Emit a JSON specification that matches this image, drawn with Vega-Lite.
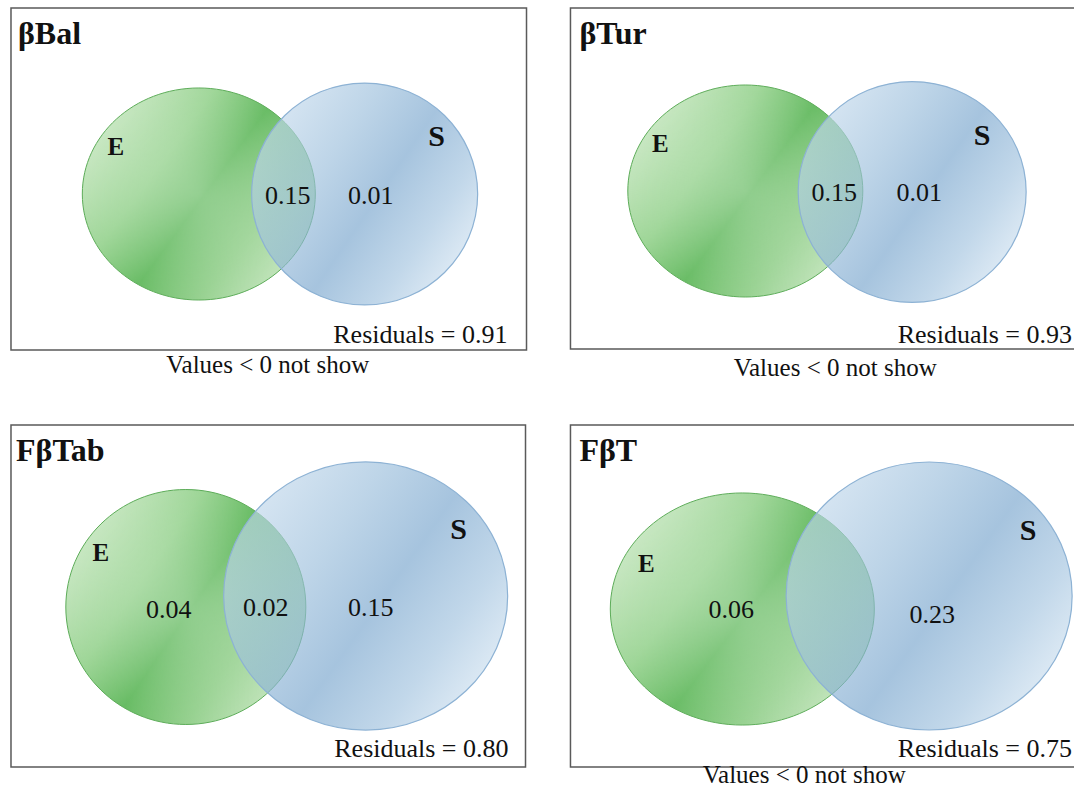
{
  "$schema": "https://vega.github.io/schema/vega-lite/v6.json",
  "width": 1075,
  "height": 796,
  "padding": 0,
  "autosize": {"type": "fit", "contains": "padding"},
  "background": "white",
  "config": {"view": {"stroke": null}},
  "datasets": {
    "boxes": [
      {"panel": "βBal", "x1": 11, "y1": 8, "x2": 527, "y2": 350},
      {"panel": "βTur", "x1": 571, "y1": 8, "x2": 1085, "y2": 349},
      {"panel": "FβTab", "x1": 11, "y1": 425, "x2": 526, "y2": 767},
      {"panel": "FβT", "x1": 571, "y1": 425, "x2": 1085, "y2": 767}
    ],
    "circles": [
      {"panel": "βBal", "set": "E", "id": "p1E", "cx": 199, "cy": 194, "w": 233},
      {"panel": "βBal", "set": "S", "id": "p1S", "cx": 365, "cy": 194, "w": 226},
      {"panel": "βTur", "set": "E", "id": "p2E", "cx": 746, "cy": 191, "w": 235},
      {"panel": "βTur", "set": "S", "id": "p2S", "cx": 913, "cy": 192, "w": 228},
      {"panel": "FβTab", "set": "E", "id": "p3E", "cx": 186, "cy": 607, "w": 240},
      {"panel": "FβTab", "set": "S", "id": "p3S", "cx": 366, "cy": 596, "w": 284},
      {"panel": "FβT", "set": "E", "id": "p4E", "cx": 743, "cy": 609, "w": 264},
      {"panel": "FβT", "set": "S", "id": "p4S", "cx": 930, "cy": 596, "w": 286}
    ],
    "labels": [
      {"panel": "βBal", "kind": "title", "text": "βBal", "x": 18, "y": 44},
      {"panel": "βTur", "kind": "title", "text": "βTur", "x": 580, "y": 44},
      {"panel": "FβTab", "kind": "title", "text": "FβTab", "x": 16, "y": 461},
      {"panel": "FβT", "kind": "title", "text": "FβT", "x": 580, "y": 461},
      {"panel": "βBal", "kind": "E", "text": "E", "x": 116, "y": 147},
      {"panel": "βTur", "kind": "E", "text": "E", "x": 661, "y": 144},
      {"panel": "FβTab", "kind": "E", "text": "E", "x": 101, "y": 553},
      {"panel": "FβT", "kind": "E", "text": "E", "x": 647, "y": 564},
      {"panel": "βBal", "kind": "S", "text": "S", "x": 437, "y": 137},
      {"panel": "βTur", "kind": "S", "text": "S", "x": 983, "y": 136},
      {"panel": "FβTab", "kind": "S", "text": "S", "x": 459, "y": 530},
      {"panel": "FβT", "kind": "S", "text": "S", "x": 1029, "y": 531},
      {"panel": "βBal", "kind": "value", "text": "0.15", "x": 288, "y": 196},
      {"panel": "βBal", "kind": "value", "text": "0.01", "x": 371, "y": 196},
      {"panel": "βTur", "kind": "value", "text": "0.15", "x": 835, "y": 193},
      {"panel": "βTur", "kind": "value", "text": "0.01", "x": 920, "y": 193},
      {"panel": "FβTab", "kind": "value", "text": "0.04", "x": 169, "y": 610},
      {"panel": "FβTab", "kind": "value", "text": "0.02", "x": 266, "y": 608},
      {"panel": "FβTab", "kind": "value", "text": "0.15", "x": 371, "y": 608},
      {"panel": "FβT", "kind": "value", "text": "0.06", "x": 732, "y": 610},
      {"panel": "FβT", "kind": "value", "text": "0.23", "x": 933, "y": 615},
      {"panel": "βBal", "kind": "residual", "text": "Residuals = 0.91", "x": 508, "y": 343},
      {"panel": "βTur", "kind": "residual", "text": "Residuals = 0.93", "x": 1073, "y": 343},
      {"panel": "FβTab", "kind": "residual", "text": "Residuals = 0.80", "x": 509, "y": 757},
      {"panel": "FβT", "kind": "residual", "text": "Residuals = 0.75", "x": 1073, "y": 757},
      {"panel": "βBal", "kind": "note", "text": "Values < 0 not show", "x": 268, "y": 373},
      {"panel": "βTur", "kind": "note", "text": "Values < 0 not show", "x": 836, "y": 376},
      {"panel": "FβT", "kind": "note", "text": "Values < 0 not show", "x": 805, "y": 783}
    ]
  },
  "layer": [
    {
      "data": {"name": "boxes"},
      "mark": {"type": "rect", "fillOpacity": 0, "stroke": "#5a5a5a", "strokeWidth": 1.5, "clip": true},
      "encoding": {
        "x": {"field": "x1", "type": "quantitative", "scale": {"domain": [0, 1075], "nice": false, "zero": false}, "axis": null},
        "x2": {"field": "x2"},
        "y": {"field": "y1", "type": "quantitative", "scale": {"domain": [0, 796], "nice": false, "zero": false, "reverse": true}, "axis": null},
        "y2": {"field": "y2"}
      }
    },
    {
      "data": {"name": "circles"},
      "transform": [{"filter": "datum.set === 'E'"}],
      "mark": {
        "type": "point", "filled": true, "opacity": 1, "fillOpacity": 1,
        "stroke": "#5aab56", "strokeWidth": 1, "strokeOpacity": 1,
        "fill": {
          "gradient": "linear", "x1": 0.05, "y1": 0.2, "x2": 0.95, "y2": 0.8,
          "stops": [
            {"offset": 0, "color": "#cce9c6"},
            {"offset": 0.3, "color": "#9ad493"},
            {"offset": 0.52, "color": "#62b95e"},
            {"offset": 0.76, "color": "#92cf8b"},
            {"offset": 1, "color": "#c8e7c1"}
          ]
        }
      },
      "encoding": {
        "x": {"field": "cx", "type": "quantitative", "scale": {"domain": [0, 1075], "nice": false, "zero": false}, "axis": null},
        "y": {"field": "cy", "type": "quantitative", "scale": {"domain": [0, 796], "nice": false, "zero": false, "reverse": true}, "axis": null},
        "size": {"field": "w", "type": "quantitative", "scale": {"type": "pow", "exponent": 2, "domain": [0, 1000], "range": [0, 1000000]}, "legend": null},
        "shape": {"field": "id", "type": "nominal", "legend": null, "scale": {
          "domain": ["p1E", "p1S", "p2E", "p2S", "p3E", "p3S", "p4E", "p4S"],
          "range": [
            "M-1,0A1,0.91,0,1,1,1,0A1,0.91,0,1,1,-1,0Z",
            "M-1,0A1,0.982,0,1,1,1,0A1,0.982,0,1,1,-1,0Z",
            "M-1,0A1,0.902,0,1,1,1,0A1,0.902,0,1,1,-1,0Z",
            "M-1,0A1,0.969,0,1,1,1,0A1,0.969,0,1,1,-1,0Z",
            "M-1,0A1,0.979,0,1,1,1,0A1,0.979,0,1,1,-1,0Z",
            "M-1,0A1,0.944,0,1,1,1,0A1,0.944,0,1,1,-1,0Z",
            "M-1,0A1,0.879,0,1,1,1,0A1,0.879,0,1,1,-1,0Z",
            "M-1,0A1,0.937,0,1,1,1,0A1,0.937,0,1,1,-1,0Z"
          ]}}
      }
    },
    {
      "data": {"name": "circles"},
      "transform": [{"filter": "datum.set === 'E'"}],
      "mark": {
        "type": "point", "filled": true, "opacity": 1, "fillOpacity": 1, "strokeWidth": 0,
        "fill": {
          "gradient": "radial", "x1": 0.5, "y1": 0.5, "r1": 0, "x2": 0.5, "y2": 0.5, "r2": 0.55,
          "stops": [
            {"offset": 0, "color": "rgba(255,255,255,0.3)"},
            {"offset": 0.6, "color": "rgba(255,255,255,0.12)"},
            {"offset": 1, "color": "rgba(255,255,255,0)"}
          ]
        }
      },
      "encoding": {
        "x": {"field": "cx", "type": "quantitative", "scale": {"domain": [0, 1075], "nice": false, "zero": false}, "axis": null},
        "y": {"field": "cy", "type": "quantitative", "scale": {"domain": [0, 796], "nice": false, "zero": false, "reverse": true}, "axis": null},
        "size": {"field": "w", "type": "quantitative", "scale": {"type": "pow", "exponent": 2, "domain": [0, 1000], "range": [0, 1000000]}, "legend": null},
        "shape": {"field": "id", "type": "nominal", "legend": null}
      }
    },
    {
      "data": {"name": "circles"},
      "transform": [{"filter": "datum.set === 'S'"}],
      "mark": {
        "type": "point", "filled": true, "opacity": 1, "fillOpacity": 0.66,
        "stroke": "#8db2d4", "strokeWidth": 1.2, "strokeOpacity": 1,
        "fill": {
          "gradient": "linear", "x1": 0.05, "y1": 0.2, "x2": 0.95, "y2": 0.8,
          "stops": [
            {"offset": 0, "color": "#c3d9ec"},
            {"offset": 0.3, "color": "#9cbfdc"},
            {"offset": 0.55, "color": "#78a5cd"},
            {"offset": 0.8, "color": "#a2c3df"},
            {"offset": 1, "color": "#cfe1f0"}
          ]
        }
      },
      "encoding": {
        "x": {"field": "cx", "type": "quantitative", "scale": {"domain": [0, 1075], "nice": false, "zero": false}, "axis": null},
        "y": {"field": "cy", "type": "quantitative", "scale": {"domain": [0, 796], "nice": false, "zero": false, "reverse": true}, "axis": null},
        "size": {"field": "w", "type": "quantitative", "scale": {"type": "pow", "exponent": 2, "domain": [0, 1000], "range": [0, 1000000]}, "legend": null},
        "shape": {"field": "id", "type": "nominal", "legend": null}
      }
    },
    {
      "data": {"name": "labels"},
      "transform": [{"filter": "datum.kind === 'title'"}],
      "mark": {"type": "text", "font": "Liberation Serif", "fontWeight": "bold", "fontSize": 32, "align": "left", "baseline": "alphabetic", "color": "#111"},
      "encoding": {
        "x": {"field": "x", "type": "quantitative", "scale": {"domain": [0, 1075], "nice": false, "zero": false}, "axis": null},
        "y": {"field": "y", "type": "quantitative", "scale": {"domain": [0, 796], "nice": false, "zero": false, "reverse": true}, "axis": null},
        "text": {"field": "text"}
      }
    },
    {
      "data": {"name": "labels"},
      "transform": [{"filter": "datum.kind === 'E'"}],
      "mark": {"type": "text", "font": "Liberation Serif", "fontWeight": "bold", "fontSize": 25, "align": "center", "baseline": "middle", "color": "#111"},
      "encoding": {
        "x": {"field": "x", "type": "quantitative", "scale": {"domain": [0, 1075], "nice": false, "zero": false}, "axis": null},
        "y": {"field": "y", "type": "quantitative", "scale": {"domain": [0, 796], "nice": false, "zero": false, "reverse": true}, "axis": null},
        "text": {"field": "text"}
      }
    },
    {
      "data": {"name": "labels"},
      "transform": [{"filter": "datum.kind === 'S'"}],
      "mark": {"type": "text", "font": "Liberation Serif", "fontWeight": "bold", "fontSize": 30, "align": "center", "baseline": "middle", "color": "#111"},
      "encoding": {
        "x": {"field": "x", "type": "quantitative", "scale": {"domain": [0, 1075], "nice": false, "zero": false}, "axis": null},
        "y": {"field": "y", "type": "quantitative", "scale": {"domain": [0, 796], "nice": false, "zero": false, "reverse": true}, "axis": null},
        "text": {"field": "text"}
      }
    },
    {
      "data": {"name": "labels"},
      "transform": [{"filter": "datum.kind === 'value'"}],
      "mark": {"type": "text", "font": "Liberation Serif", "fontSize": 26, "align": "center", "baseline": "middle", "color": "#111"},
      "encoding": {
        "x": {"field": "x", "type": "quantitative", "scale": {"domain": [0, 1075], "nice": false, "zero": false}, "axis": null},
        "y": {"field": "y", "type": "quantitative", "scale": {"domain": [0, 796], "nice": false, "zero": false, "reverse": true}, "axis": null},
        "text": {"field": "text"}
      }
    },
    {
      "data": {"name": "labels"},
      "transform": [{"filter": "datum.kind === 'residual'"}],
      "mark": {"type": "text", "font": "Liberation Serif", "fontSize": 26, "align": "right", "baseline": "alphabetic", "color": "#111"},
      "encoding": {
        "x": {"field": "x", "type": "quantitative", "scale": {"domain": [0, 1075], "nice": false, "zero": false}, "axis": null},
        "y": {"field": "y", "type": "quantitative", "scale": {"domain": [0, 796], "nice": false, "zero": false, "reverse": true}, "axis": null},
        "text": {"field": "text"}
      }
    },
    {
      "data": {"name": "labels"},
      "transform": [{"filter": "datum.kind === 'note'"}],
      "mark": {"type": "text", "font": "Liberation Serif", "fontSize": 25, "align": "center", "baseline": "alphabetic", "color": "#111"},
      "encoding": {
        "x": {"field": "x", "type": "quantitative", "scale": {"domain": [0, 1075], "nice": false, "zero": false}, "axis": null},
        "y": {"field": "y", "type": "quantitative", "scale": {"domain": [0, 796], "nice": false, "zero": false, "reverse": true}, "axis": null},
        "text": {"field": "text"}
      }
    }
  ]
}
